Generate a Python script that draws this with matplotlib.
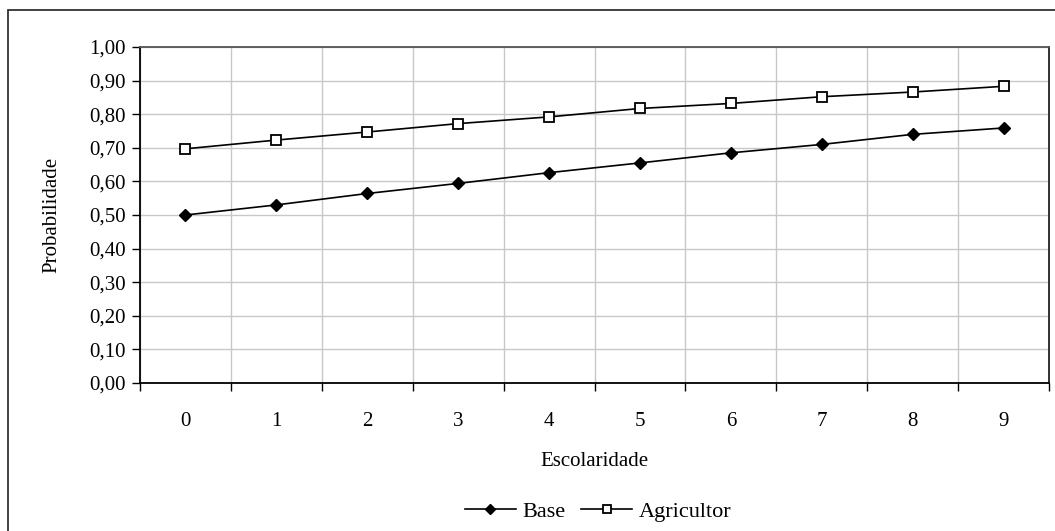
import matplotlib
matplotlib.use("Agg")
import matplotlib.pyplot as plt
from matplotlib.patches import Rectangle
import numpy as np

# ---- data ----
categories = ["0", "1", "2", "3", "4", "5", "6", "7", "8", "9"]
base = [0.500, 0.530, 0.564, 0.594, 0.626, 0.655, 0.685, 0.710, 0.740, 0.759]
agricultor = [0.697, 0.723, 0.747, 0.772, 0.792, 0.817, 0.832, 0.852, 0.866, 0.883]
yticks = [0.0, 0.1, 0.2, 0.3, 0.4, 0.5, 0.6, 0.7, 0.8, 0.9, 1.0]
ytick_labels = ["0,00", "0,10", "0,20", "0,30", "0,40", "0,50",
                "0,60", "0,70", "0,80", "0,90", "1,00"]
series_names = ["Base", "Agricultor"]
x_label = "Escolaridade"
y_label = "Probabilidade"

plt.rcParams['font.family'] = ['Liberation Serif', 'DejaVu Serif']
FS = 15

W, H = 1055, 531
fig = plt.figure(figsize=(W / 100, H / 100), dpi=100)
fig.patch.set_facecolor("white")

# outer chart border (cropped at right/bottom)
fig.patches.append(Rectangle((8 / W, -0.05), 1.2, 1 - 10 / H + 0.05,
                             transform=fig.transFigure, fill=False,
                             edgecolor="#333333", linewidth=1.3, clip_on=False))

ax = fig.add_axes([140 / W, 1 - 383 / H, (1049 - 140) / W, (383 - 47) / H])

x = np.arange(len(categories))
ax.plot(x, base, color="black", linewidth=1.2, marker="D", markersize=6.5,
        markerfacecolor="black", markeredgecolor="black", label=series_names[0])
ax.plot(x, agricultor, color="black", linewidth=1.2, marker="s", markersize=7,
        markerfacecolor="white", markeredgecolor="black", markeredgewidth=1.3,
        label=series_names[1])

ax.set_xlim(-0.5, len(categories) - 0.5)
ax.set_ylim(0, 1.0)
ax.set_yticks(yticks)
ax.set_yticklabels(ytick_labels)
ax.set_xticks(x)
ax.set_xticklabels(categories)
ax.set_xticks(np.arange(-0.5, len(categories), 1.0), minor=True)

ax.grid(True, axis="y", which="major", color="#c8c8c8", linewidth=1.0)
ax.grid(True, axis="x", which="minor", color="#c8c8c8", linewidth=1.0)
ax.set_axisbelow(True)

ax.tick_params(axis="x", which="major", length=0, labelsize=FS, pad=21)
ax.tick_params(axis="x", which="minor", length=6, width=1.0, direction="out")
ax.tick_params(axis="y", which="major", length=6, width=1.0, direction="out",
               labelsize=FS, pad=4)

for s in ["left", "bottom"]:
    ax.spines[s].set_color("black")
    ax.spines[s].set_linewidth(1.3)
ax.spines["top"].set_color("#555555")
ax.spines["top"].set_linewidth(1.3)
ax.spines["right"].set_color("#222222")
ax.spines["right"].set_linewidth(1.3)

ax.set_xlabel(x_label, fontsize=FS, labelpad=15)
ax.set_ylabel(y_label, fontsize=FS, labelpad=20)

fig.legend(loc="center", bbox_to_anchor=(598 / W, 1 - 512 / H), ncol=2,
           frameon=False, fontsize=FS + 1, handlelength=2.3, handletextpad=0.3,
           columnspacing=0.7, markerscale=0.8)

fig.savefig("out.png", dpi=100)
